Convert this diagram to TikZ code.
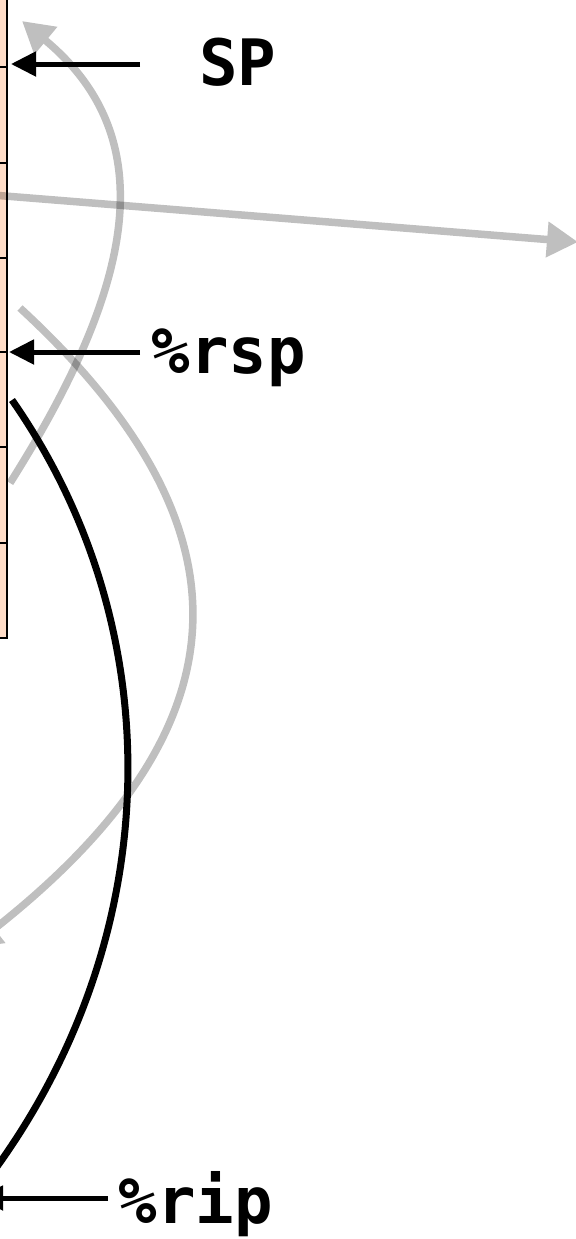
\documentclass[tikz,border=0pt]{standalone}
\usepackage{fontspec}
\newfontfamily\monob{DejaVu Sans Mono}[BoldFont=DejaVu Sans Mono Bold]
\usetikzlibrary{arrows.meta}
\definecolor{peach}{RGB}{255,221,200}
\begin{document}
\begin{tikzpicture}[x=0.5pt,y=-0.5pt,
  lbl/.style={font=\fontsize{32}{38}\selectfont\monob\bfseries, inner sep=0pt, anchor=base},
  ptr/.style={line width=2.5pt, -{Triangle[length=12.5pt,width=12pt]}},
  flow/.style={line width=3.75pt, draw=black, -{Triangle[length=15.5pt,width=17pt]}},
  cell/.style={draw=black, line width=1pt, fill=peach}
]
\useasboundingbox (0,0) rectangle (576,1239);
% stack column
\foreach \a/\b in {-100/67, 67/163, 163/258, 258/352, 352/447, 447/543, 543/638}
  \draw[cell] (-100,\a) rectangle (7,\b);
% coordinates
\coordinate (g1s) at (10,483);
\coordinate (g1e) at (22,21);
\coordinate (g2s) at (-20,194);
\coordinate (g2e) at (578,242);
\coordinate (g3s) at (20,308);
\coordinate (g3e) at (-30,948);
\coordinate (bks) at (12,400);
\coordinate (bke) at (-4,1168);
% gray flows
\begin{scope}[transparency group, opacity=0.25]
\draw[flow] (g1s) .. controls (132,290) and (166,140) .. (g1e);
\end{scope}
\begin{scope}[transparency group, opacity=0.25]
\draw[flow] (g2s) -- (g2e);
\end{scope}
\begin{scope}[transparency group, opacity=0.25]
\draw[flow] (g3s) .. controls (250,520) and (260,720) .. (g3e);
\end{scope}
% black curve
\draw[line width=3.5pt] (bks) .. controls (173,631) and (165,934) .. (bke);
% labels
\node[lbl] (sp) at (238,85) {SP};
\node[lbl] (rsp) at (229,373) {\%rsp};
\node[lbl] (rip) at (196,1223) {\%rip};
\coordinate (sps) at (140,64);
\coordinate (spt) at (11,64);
\coordinate (rsps) at (140,352);
\coordinate (rspt) at (9,352);
\coordinate (rips) at (108,1198);
\coordinate (ript) at (-22,1198);
\draw[ptr] (sps) -- (spt);
\draw[ptr] (rsps) -- (rspt);
\draw[ptr] (rips) -- (ript);
\end{tikzpicture}
\end{document}
